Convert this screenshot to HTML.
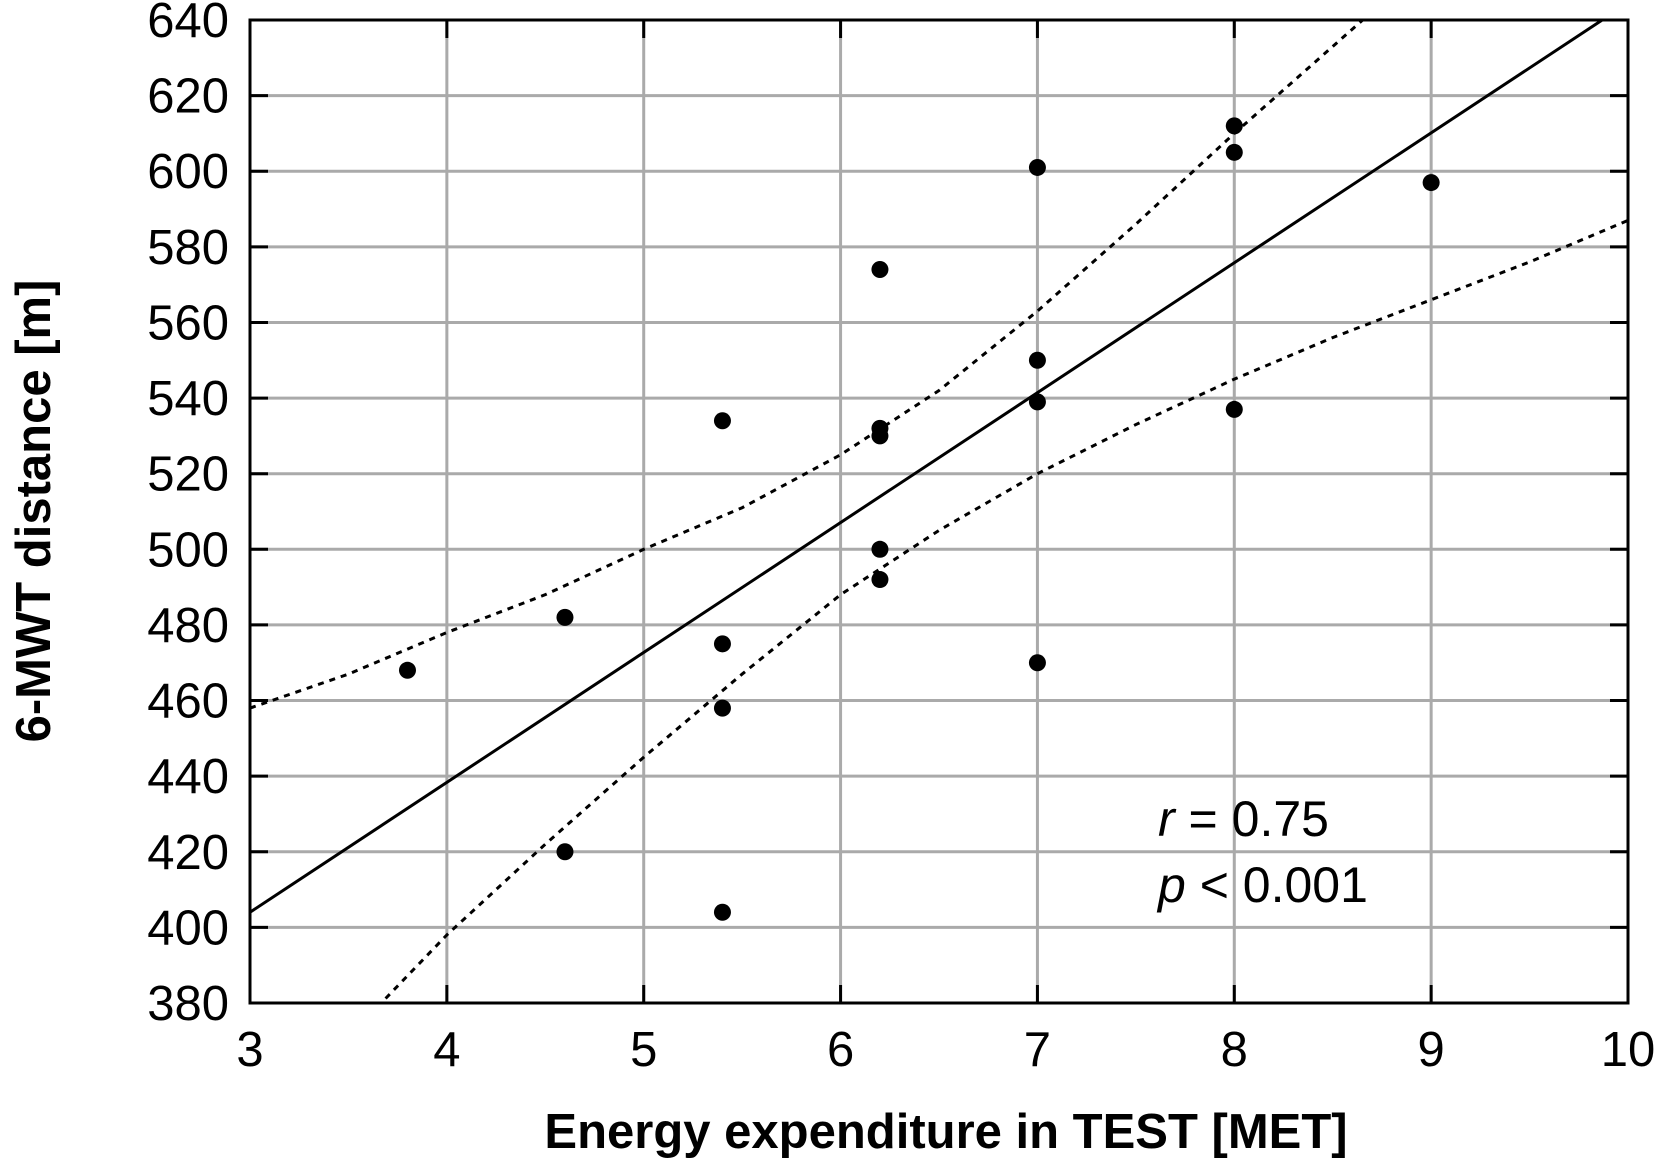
<!DOCTYPE html>
<html><head><meta charset="utf-8"><style>
html,body{margin:0;padding:0;background:#fff;}
svg{display:block;font-family:"Liberation Sans","DejaVu Sans",sans-serif;}
</style></head><body>
<svg id="chart" width="1658" height="1162" viewBox="0 0 1658 1162">
<g id="grid"></g>
<g id="series"></g>
<rect x="250" y="20" width="1378" height="983" fill="none" stroke="#000" stroke-width="3"/>
<g id="ticks"></g>
<text x="946" y="1148" font-size="49" font-weight="bold" text-anchor="middle">Energy expenditure in TEST [MET]</text>
<text transform="translate(50,511) rotate(-90)" font-size="49" font-weight="bold" text-anchor="middle">6-MWT distance [m]</text>
<text x="1158" y="836" font-size="50"><tspan font-style="italic">r</tspan> = 0.75</text>
<text x="1158" y="902" font-size="50"><tspan font-style="italic">p</tspan> &lt; 0.001</text>
</svg>
<script>
const xTicks=[3,4,5,6,7,8,9,10];
const yTicks=[380,400,420,440,460,480,500,520,540,560,580,600,620,640];
const ptX=[3.8,4.6,4.6,5.4,5.4,5.4,5.4,6.2,6.2,6.2,6.2,6.2,7,7,7,7,8,8,8,9];
const ptY=[468,482,420,534,475,458,404,574,532,530,500,492,601,550,539,470,612,605,537,597];
const fitX=[3,10];
const fitY=[404,644.5];
const bandX=[3,3.5,4,4.5,5,5.5,6,6.5,7,7.5,8,8.5,9,9.5,10];
const upperY=[458,467,478,488,500,511,525,542,563,586,610,633,656,679,702];
const lowerY=[350,371,398,422,445,467,488,505,520,533,545,556,566,576,587];
const NS='http://www.w3.org/2000/svg';
const L=250,R=1628,T=20,B=1003,x0=3,x1=10,y0=380,y1=640;
const sx=v=>L+(v-x0)/(x1-x0)*(R-L);
const sy=v=>B-(v-y0)/(y1-y0)*(B-T);
function mk(tag,attrs,parent){const e=document.createElementNS(NS,tag);for(const k in attrs)e.setAttribute(k,attrs[k]);parent.appendChild(e);return e;}
const grid=document.getElementById('grid'),ticks=document.getElementById('ticks'),series=document.getElementById('series');
xTicks.forEach(v=>{
  if(v>x0&&v<x1){const g=mk('line',{x1:sx(v),x2:sx(v),y1:T,y2:B,stroke:'#aaa','stroke-width':3},grid);
  
  
  mk('line',{x1:sx(v),x2:sx(v),y1:T,y2:T+18,stroke:'#000','stroke-width':3},ticks);
  mk('line',{x1:sx(v),x2:sx(v),y1:B-18,y2:B,stroke:'#000','stroke-width':3},ticks);}
  const t=mk('text',{x:sx(v),y:1066,'font-size':49,'text-anchor':'middle'},ticks);t.textContent=v;
  
  
});
yTicks.forEach(v=>{
  if(v>y0&&v<y1){const g=mk('line',{x1:L,x2:R,y1:sy(v),y2:sy(v),stroke:'#aaa','stroke-width':3},grid);
  
  
  mk('line',{x1:L,x2:L+18,y1:sy(v),y2:sy(v),stroke:'#000','stroke-width':3},ticks);
  mk('line',{x1:R-18,x2:R,y1:sy(v),y2:sy(v),stroke:'#000','stroke-width':3},ticks);}
  const t=mk('text',{x:229,y:sy(v)+17,'font-size':49,'text-anchor':'end'},ticks);t.textContent=v;
  
  
});
const defs=mk('defs',{},document.getElementById('chart'));
const cp=mk('clipPath',{id:'clip'},defs);mk('rect',{x:L,y:T,width:R-L,height:B-T},cp);
const clipG=mk('g',{'clip-path':'url(#clip)'},series);
const fit=mk('line',{x1:sx(fitX[0]),y1:sy(fitY[0]),x2:sx(fitX[1]),y2:sy(fitY[1]),stroke:'#000','stroke-width':3},clipG);


const up=mk('polyline',{points:bandX.map((v,i)=>sx(v)+','+sy(upperY[i])).join(' '),fill:'none',stroke:'#000','stroke-width':3,'stroke-dasharray':'6,6'},clipG);


const lo=mk('polyline',{points:bandX.map((v,i)=>sx(v)+','+sy(lowerY[i])).join(' '),fill:'none',stroke:'#000','stroke-width':3,'stroke-dasharray':'6,6'},clipG);


ptX.forEach((v,i)=>{const c=mk('circle',{cx:sx(v),cy:sy(ptY[i]),r:8.5,fill:'#000'},series);
  
  
});
</script>
</body></html>
